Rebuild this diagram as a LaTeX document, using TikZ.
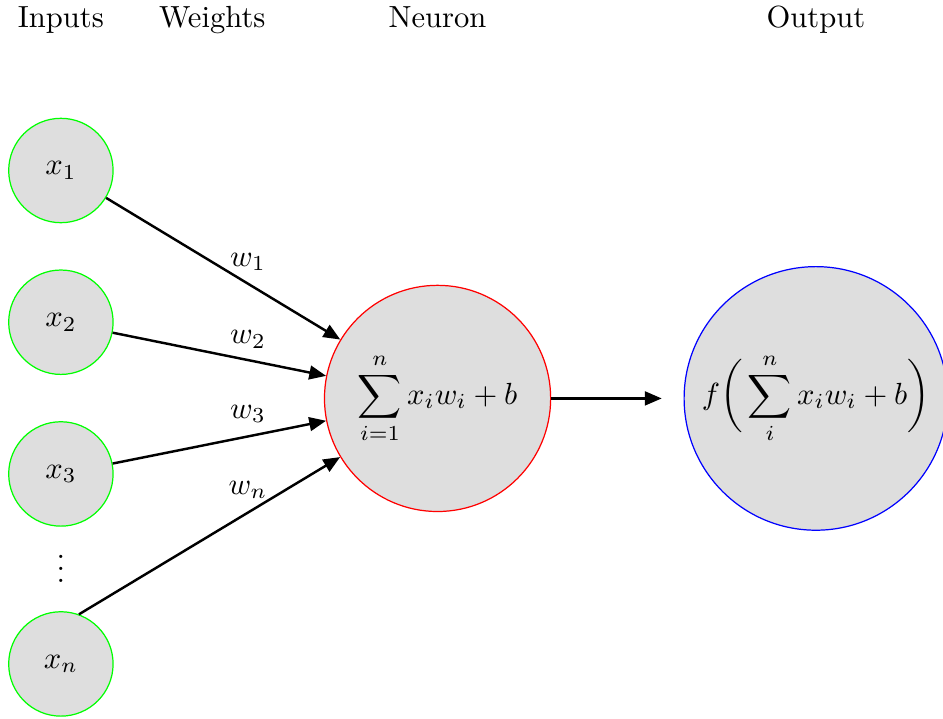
\documentclass[tikz,border=0pt]{standalone}
\usepackage{amsmath}
\usetikzlibrary{arrows.meta,calc,positioning}
\definecolor{gris}{rgb}{0.87, 0.87, 0.87}
\tikzset{
  entrada/.style={
    circle,
    draw=green,
    fill=gris,
    minimum size=1.2cm,
    inner sep=0pt
  },
  neurona/.style={
    circle,
    draw=red,
    fill=gris,
    minimum size=2.6cm,
    inner sep=0pt
  },
  salida/.style={
    circle,
    draw=blue,
    fill=gris,
    minimum size=3.03cm,
    inner sep=0pt
  },
  titulo/.style={
    anchor=base,
    inner sep=0pt
  },
  peso/.style={
    inner sep=0pt
  },
  arrow/.style={
    -{Triangle[length=5.5pt,width=4.5pt]},
    thick
  }
}

\begin{document}
\begin{tikzpicture}[node distance=.53cm]
\useasboundingbox (0,0) rectangle (10.84,-8.26);
\node[entrada] (x1) at (0.70,-1.96) {$x_1$};
\node[entrada, below=of x1] (x2) {$x_2$};
\node[entrada, below=of x2] (x3) {$x_3$};
\node[entrada, below=.97cm of x3] (xn) {$x_n$};
\node[yshift=3pt] (puntos) at ($(x3)!.5!(xn)$) {$\vdots$};
\node[neurona] (suma) at (5.03,-4.58) {$\displaystyle\sum_{i=1}^{n} x_i w_i + b$};
\node[salida, right=1.52cm of suma] (fx) {$\displaystyle f\bigg(\sum_{i}^{n} x_i w_i + b\bigg)$};
\coordinate (llegada) at ($(fx.west)+(-0.25,0)$);
% titulos
\node[titulo] (tinputs) at (x1 |- 0,-0.32) {Inputs};
\node[titulo] (tweights) at (2.44,-0.32) {Weights};
\node[titulo] (tneuron) at (suma |- 0,-0.32) {Neuron};
\node[titulo] (toutput) at (fx |- 0,-0.32) {Output};
% pesos
\node[peso] (w1) at (2.85,-3.01) {$w_1$};
\node[peso] (w2) at (2.85,-3.90) {$w_2$};
\node[peso] (w3) at (2.85,-4.76) {$w_3$};
\node[peso] (wn) at (2.85,-5.63) {$w_n$};
\draw[arrow] (x1) -- (suma);
\draw[arrow] (x2) -- (suma);
\draw[arrow] (x3) -- (suma);
\draw[arrow] (xn.70) -- (suma);
\draw[arrow] (suma) -- (llegada);
\end{tikzpicture}
\end{document}
